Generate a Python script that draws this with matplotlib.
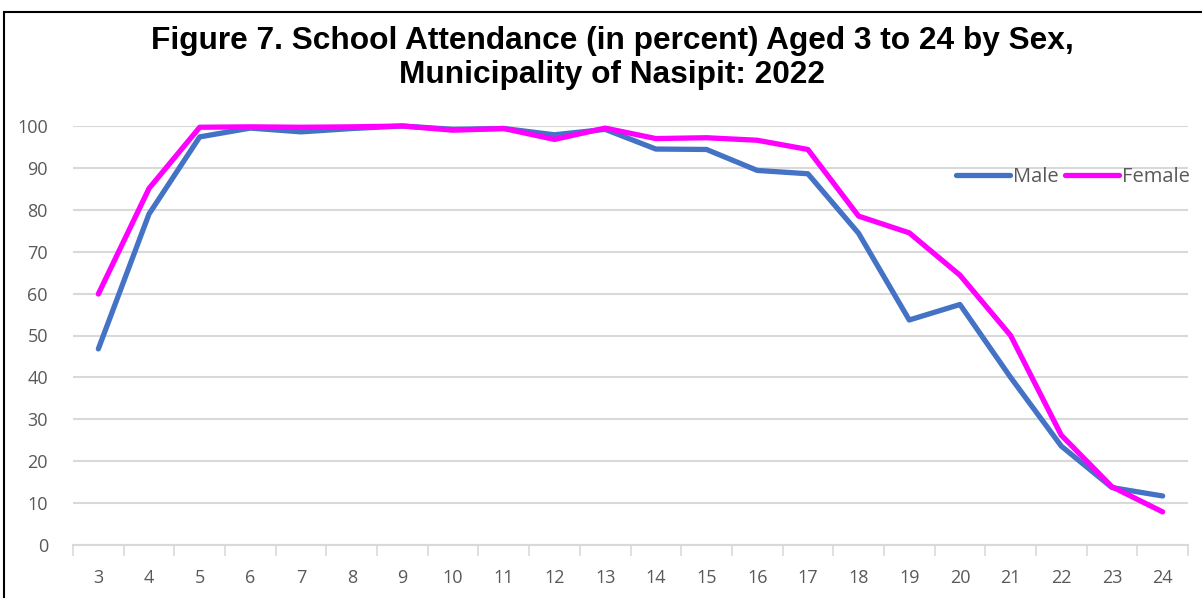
import matplotlib
matplotlib.use("Agg")
import matplotlib.pyplot as plt
from matplotlib.patches import Rectangle
import numpy as np

ages = ["3", "4", "5", "6", "7", "8", "9", "10", "11", "12", "13", "14",
        "15", "16", "17", "18", "19", "20", "21", "22", "23", "24"]
male = [46.8, 79.0, 97.4, 99.5, 98.6, 99.4, 100.0, 99.2, 99.4, 97.9, 99.2, 94.5,
        94.4, 89.4, 88.6, 74.4, 53.7, 57.4, 40.0, 23.6, 13.7, 11.7]
female = [59.9, 85.1, 99.7, 99.8, 99.7, 99.8, 100.0, 99.0, 99.4, 96.8, 99.5, 97.0,
          97.2, 96.6, 94.4, 78.5, 74.5, 64.4, 50.0, 26.2, 13.9, 7.9]
yticks = list(range(0, 101, 10))
title = "Figure 7. School Attendance (in percent) Aged 3 to 24 by Sex,\nMunicipality of Nasipit: 2022"

W, H = 1202, 598
fig = plt.figure(figsize=(W / 100, H / 100), dpi=100)
fig.patch.set_facecolor("white")

# outer border (left and top visible)
fig.patches.append(Rectangle((4 / W, -0.05), 1.1, 1 - 12 / H + 0.05, transform=fig.transFigure,
                             fill=False, edgecolor="black", linewidth=1.5))

ax = fig.add_axes([73 / W, 1 - 545 / H, (1188 - 73) / W, (545 - 126) / H])
x = np.arange(len(ages))
ax.plot(x, male, color="#4472C4", linewidth=3.8, label="Male", clip_on=False,
        solid_capstyle="round", solid_joinstyle="round")
ax.plot(x, female, color="#FF00FF", linewidth=3.8, label="Female", clip_on=False,
        solid_capstyle="round", solid_joinstyle="round")

ax.set_xlim(-0.5, len(ages) - 0.5)
ax.set_ylim(0, 100)
ax.set_yticks(yticks)
ax.set_yticklabels([str(v) for v in yticks])
ax.set_xticks(x)
ax.set_xticklabels(ages)
ax.set_xticks(np.arange(-0.5, len(ages), 1.0), minor=True)

for s in ["top", "right", "left"]:
    ax.spines[s].set_visible(False)
ax.spines["bottom"].set_color("#d9d9d9")
ax.spines["bottom"].set_linewidth(1.5)
ax.grid(axis="y", color="#d9d9d9", linewidth=1.5)
ax.set_axisbelow(True)

ax.tick_params(axis="y", length=0, labelsize=13, labelcolor="#595959", pad=18)
ax.tick_params(axis="x", which="major", length=0, labelsize=13, labelcolor="#595959", pad=17)
ax.tick_params(axis="x", which="minor", length=8, color="#d9d9d9", width=1.2)
for lab in ax.get_xticklabels() + ax.get_yticklabels():
    lab.set_fontfamily("Open Sans")

leg = ax.legend(loc="upper right", bbox_to_anchor=(1.018, 0.945), ncol=2, frameon=False,
                handlelength=2.7, columnspacing=0.3, handletextpad=0.15,
                prop={"family": "Open Sans", "size": 14.5})
for t in leg.get_texts():
    t.set_color("#595959")

fig.text(612 / W, 1 - 58 / H, title, ha="center", va="center", fontsize=22.8,
         fontweight="bold", family="Liberation Sans", linespacing=1.2)

fig.savefig("out.png", dpi=100)
